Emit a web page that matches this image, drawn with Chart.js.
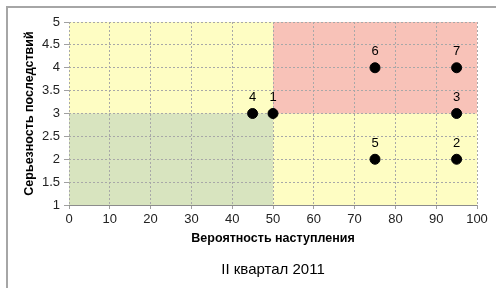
<!DOCTYPE html>
<html><head><meta charset="utf-8">
<script src="https://cdn.jsdelivr.net/npm/chart.js@4/dist/chart.umd.min.js"></script>
<style>html,body{margin:0;padding:0;background:#fff;}canvas{display:block;}</style>
</head><body>
<canvas id="c" width="496" height="288"></canvas>
<script>
// Data
const pointLabels = ['1','2','3','4','5','6','7'];
const probability = [50, 95, 95, 45, 75, 75, 95];
const severity = [3, 2, 3, 3, 2, 4, 4];
const xTicks = [0,10,20,30,40,50,60,70,80,90,100];
const yTicks = [1,1.5,2,2.5,3,3.5,4,4.5,5];
// Zones: [xFrom, xTo, yFrom, yTo]
const zoneYellow = [0, 100, 1, 5];
const zoneRed = [50, 100, 3, 5];
const zoneGreen = [0, 50, 1, 3];
const chartTitle = 'II квартал 2011';
const xTitle = 'Вероятность наступления';
const yTitle = 'Серьезность последствий';

const FONT = "'Liberation Sans', Arial, sans-serif";

const zonePlugin = {
  id: 'zones',
  beforeDraw(chart) {
    const ctx = chart.ctx, x = chart.scales.x, y = chart.scales.y;
    ctx.save();
    ctx.strokeStyle = '#a6a6a6';
    ctx.lineWidth = 2;
    ctx.strokeRect(7, 7, 600, 400);
    const fill = (z, col) => {
      const x0 = x.getPixelForValue(z[0]), x1 = x.getPixelForValue(z[1]);
      const y0 = y.getPixelForValue(z[2]), y1 = y.getPixelForValue(z[3]);
      ctx.fillStyle = col;
      ctx.fillRect(Math.min(x0,x1), Math.min(y0,y1), Math.abs(x1-x0), Math.abs(y1-y0));
    };
    fill(zoneYellow, '#fefdc3');
    fill(zoneRed, '#f8c2b8');
    fill(zoneGreen, '#d8e4bf');
    ctx.restore();
  },
  beforeDatasetsDraw(chart) {
    const ctx = chart.ctx, a = chart.chartArea;
    ctx.save();
    ctx.strokeStyle = '#8c8c8c';
    ctx.lineWidth = 1;
    ctx.beginPath();
    ctx.moveTo(a.left, Math.round(a.bottom) + 0.5);
    ctx.lineTo(a.right, Math.round(a.bottom) + 0.5);
    ctx.stroke();
    ctx.restore();
  }
};

const labelPlugin = {
  id: 'ptlabels',
  afterDatasetsDraw(chart) {
    const ctx = chart.ctx;
    const meta = chart.getDatasetMeta(0);
    ctx.save();
    ctx.font = '13px ' + FONT;
    ctx.fillStyle = '#000';
    ctx.textAlign = 'center';
    ctx.textBaseline = 'middle';
    meta.data.forEach((p, i) => {
      ctx.fillText(pointLabels[i], p.x, p.y - 16);
    });
    ctx.restore();
  }
};

new Chart(document.getElementById('c'), {
  type: 'scatter',
  data: {
    datasets: [{
      data: probability.map((v, i) => ({x: v, y: severity[i]})),
      backgroundColor: '#000',
      borderColor: '#000',
      pointRadius: 5,
      pointHoverRadius: 5
    }]
  },
  plugins: [zonePlugin, labelPlugin],
  options: {
    responsive: false,
    animation: false,
    devicePixelRatio: 1,
    layout: {padding: {left: 0, right: 19, top: 22, bottom: 0}},
    plugins: {
      legend: {display: false},
      tooltip: {enabled: false},
      title: {
        display: true, text: chartTitle, position: 'bottom', fullSize: false,
        color: '#000', font: {family: FONT, size: 15, weight: 'normal'},
        padding: {top: 10, bottom: 9}
      }
    },
    scales: {
      x: {
        type: 'linear', min: 0, max: 100,
        afterFit(s) { s.height = 46; },
        afterBuildTicks(s) { s.ticks = xTicks.map(v => ({value: v})); },
        ticks: {color: '#222', font: {family: FONT, size: 13}, padding: 3, maxRotation: 0, callback: v => String(v)},
        grid: {color: '#a8a8a8', tickLength: 4, tickColor: '#a0a0a0'},
        border: {display: false, dash: [2, 2]},
        title: {display: true, text: xTitle, color: '#000', font: {family: FONT, size: 12.5, weight: 'bold'}, padding: {top: 0, bottom: 4.5}}
      },
      y: {
        type: 'linear', min: 1, max: 5,
        afterFit(s) { s.width = 69; },
        afterBuildTicks(s) { s.ticks = yTicks.map(v => ({value: v})); },
        ticks: {color: '#222', font: {family: FONT, size: 13}, padding: 4, callback: v => String(v)},
        grid: {color: '#a8a8a8', tickLength: 5, tickColor: '#a0a0a0'},
        border: {display: false, dash: [2, 2]},
        title: {display: true, text: yTitle, color: '#000', font: {family: FONT, size: 12.5, weight: 'bold'}, padding: {top: 22.5, bottom: 0}}
      }
    }
  }
});
</script>
</body></html>
